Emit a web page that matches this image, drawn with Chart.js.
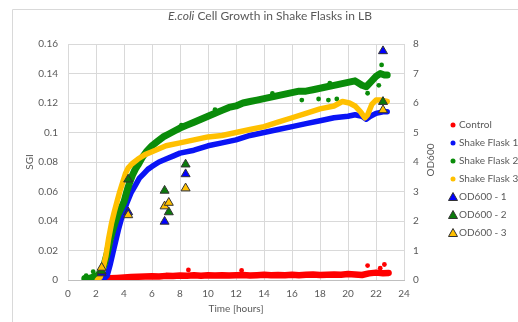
<!DOCTYPE html>
<html><head><meta charset="utf-8">
<script src="https://cdn.jsdelivr.net/npm/chart.js@4.4.1/dist/chart.umd.min.js"></script>
<style>html,body{margin:0;padding:0;background:#fff;overflow:hidden}canvas{display:block}</style>
</head><body>
<canvas id="c" width="518" height="322"></canvas>
<script>
// ---- tick labels ----
const timeTickLabels = ['0','2','4','6','8','10','12','14','16','18','20','22','24'];
const sgiTickLabels = ['0','0.02','0.04','0.06','0.08','0.1','0.12','0.14','0.16'];
const odTickLabels = ['0','1','2','3','4','5','6','7','8'];

// ---- Control (SGI) ----
const controlTime = [2.5,3,3.5,4,4.5,5,5.5,6,6.5,7,7.5,8,8.5,9,9.5,10,10.5,11,11.5,12,12.5,13,13.5,14,14.5,15,15.5,16,16.5,17,17.5,18,18.5,19,19.5,20,20.5,21,21.5,22,22.5,22.9];
const controlSGI = [0.0008,0.0012,0.0014,0.0017,0.002,0.0022,0.0024,0.0026,0.0024,0.0028,0.0027,0.003,0.0029,0.0032,0.0029,0.0032,0.0031,0.0033,0.003,0.0032,0.0034,0.0031,0.0033,0.0035,0.0032,0.0034,0.0033,0.0036,0.0032,0.0035,0.0037,0.0034,0.0036,0.0038,0.0035,0.004,0.0038,0.0034,0.0045,0.005,0.0046,0.0048];
const controlOutTime = [8.6,12.4,21.4,22.3,22.6];
const controlOutSGI = [0.0068,0.0065,0.0098,0.008,0.0105];

// ---- Shake Flask 1 (SGI) ----
const flask1Time = [2.4,2.6,2.8,3.0,3.2,3.4,3.6,3.8,4.0,4.2,4.5,4.8,5.1,5.4,5.7,6.0,6.5,7.0,7.5,8.0,9,10,11,12,13,14,15,16,17,18,19,20,20.5,21.0,21.3,21.6,22.0,22.5,22.8];
const flask1SGI = [0.000,0.001,0.003,0.010,0.018,0.026,0.034,0.041,0.047,0.052,0.059,0.064,0.069,0.072,0.075,0.077,0.080,0.082,0.084,0.086,0.088,0.091,0.093,0.095,0.098,0.100,0.102,0.104,0.106,0.108,0.110,0.111,0.112,0.111,0.109,0.111,0.113,0.114,0.114];

// ---- Shake Flask 2 (SGI) ----
const flask2Time = [1.2,1.5,1.8,2.1,2.4,2.6,2.8,3.0,3.2,3.4,3.6,3.8,4.0,4.2,4.4,4.6,4.8,5.0,5.3,5.6,6.0,6.4,6.8,7.2,7.6,8.0,8.5,9.0,9.5,10,10.5,11,11.5,12,12.5,13,13.5,14,14.5,15,15.5,16,16.5,17,17.5,18,18.5,19,19.5,20,20.5,21.0,21.3,21.6,22.0,22.3,22.6,22.8];
const flask2SGI = [0.001,0.001,0.002,0.003,0.006,0.011,0.018,0.027,0.034,0.040,0.045,0.049,0.053,0.060,0.066,0.071,0.075,0.078,0.083,0.087,0.091,0.094,0.097,0.099,0.101,0.103,0.105,0.107,0.109,0.111,0.113,0.115,0.117,0.118,0.120,0.121,0.122,0.123,0.124,0.125,0.126,0.127,0.128,0.128,0.129,0.130,0.131,0.132,0.133,0.134,0.135,0.132,0.131,0.134,0.138,0.140,0.139,0.139];
const flask2OutTime = [1.3,1.8,2.2,8.1,10.5,14.6,16.7,17.9,18.6,18.7,19.2,21.4,22.2,22.4];
const flask2OutSGI = [0.003,0.0056,0.004,0.1049,0.1155,0.1265,0.122,0.1227,0.122,0.1335,0.1227,0.1266,0.132,0.1458];

// ---- Shake Flask 3 (SGI) ----
const flask3Time = [2.1,2.3,2.5,2.7,2.9,3.1,3.3,3.5,3.7,3.9,4.1,4.3,4.6,5.0,5.5,6.0,6.5,7,8,9,10,11,12,13,14,15,16,17,18,19,19.6,20.1,20.5,20.9,21.2,21.4,21.7,22.0,22.4,22.8];
const flask3SGI = [0.000,0.002,0.008,0.016,0.028,0.038,0.046,0.053,0.060,0.066,0.072,0.076,0.079,0.082,0.085,0.087,0.089,0.091,0.093,0.095,0.097,0.098,0.100,0.102,0.104,0.107,0.110,0.113,0.116,0.118,0.121,0.120,0.118,0.114,0.110,0.112,0.119,0.122,0.122,0.121];

// ---- OD600 measurements ----
const od1Time = [2.4,4.3,6.9,8.4,22.5];
const od1Value = [0.23,2.3,1.98,3.59,7.76];
const od2Time = [2.4,4.3,6.9,7.2,8.4,22.5];
const od2Value = [0.3,3.41,3.03,2.3,3.92,6.04];
const od3Time = [2.4,4.3,6.9,7.2,8.4,22.5];
const od3Value = [0.42,2.2,2.5,2.62,3.11,5.76];

const pts = (xs, ys) => xs.map((x, i) => ({x, y: ys[i]}));

const RED = '#ff0000', BLUE = '#0a14f5', GREEN = '#0a8c0a', GOLD = '#ffc000';
const TXT = '#595959', GRID = '#d9d9d9';
const FONT = 'Lato, "Open Sans", sans-serif';

function lineSet(label, data, color, order, width) {
  return {label, data, showLine: true, borderColor: color, backgroundColor: color,
    borderWidth: width, pointRadius: 0, borderJoinStyle: 'round', borderCapStyle: 'round',
    yAxisID: 'y', order, legendStyle: 'circle'};
}
function dotSet(label, data, color, order) {
  return {label, data, showLine: false, backgroundColor: color, borderColor: color,
    pointRadius: 2.4, borderWidth: 0, yAxisID: 'y', order, legendStyle: null};
}
function triSet(label, data, color, order) {
  return {label, data, showLine: false, pointStyle: 'triangle', pointRadius: 5.2,
    backgroundColor: color, borderColor: '#333333', borderWidth: 1, yAxisID: 'y2', order, legendStyle: 'triangle'};
}

const datasets = [
  lineSet('Control', pts(controlTime, controlSGI), RED, 20, 6.5),
  dotSet('Control outliers', pts(controlOutTime, controlOutSGI), RED, 19),
  lineSet('Shake Flask 1', pts(flask1Time, flask1SGI), BLUE, 18, 5.5),
  lineSet('Shake Flask 2', pts(flask2Time, flask2SGI), GREEN, 17, 7),
  dotSet('Shake Flask 2 outliers', pts(flask2OutTime, flask2OutSGI), GREEN, 16),
  lineSet('Shake Flask 3', pts(flask3Time, flask3SGI), GOLD, 15, 5.5),
  triSet('OD600 - 1', pts(od1Time, od1Value), '#0000ff', 3),
  triSet('OD600 - 2', pts(od2Time, od2Value), '#0a7a0a', 2),
  triSet('OD600 - 3', pts(od3Time, od3Value), '#ffc000', 1)
];

const decor = {
  id: 'decor',
  beforeDraw(chart) {
    const ctx = chart.ctx;
    ctx.save();
    ctx.strokeStyle = GRID; ctx.lineWidth = 1;
    ctx.beginPath();
    ctx.moveTo(12.5, 322); ctx.lineTo(12.5, 9.5); ctx.lineTo(518, 9.5);
    ctx.stroke();
    ctx.restore();
  },
  afterDraw(chart) {
    const ctx = chart.ctx;
    ctx.save();
    // title with italic part
    ctx.fillStyle = TXT;
    ctx.textBaseline = 'middle';
    const p1 = 'E.coli', p2 = ' Cell Growth in Shake Flasks in LB';
    const fI = 'italic 12px ' + FONT, fN = '12px ' + FONT;
    ctx.font = fI; const w1 = ctx.measureText(p1).width;
    ctx.font = fN; const w2 = ctx.measureText(p2).width;
    const x0 = 270 - (w1 + w2) / 2;
    ctx.font = fI; ctx.textAlign = 'left'; ctx.fillText(p1, x0, 16);
    ctx.font = fN; ctx.fillText(p2, x0 + w1, 16);
    // right axis title
    ctx.save();
    ctx.translate(431, 160);
    ctx.rotate(-Math.PI / 2);
    ctx.font = '10px ' + FONT; ctx.textAlign = 'center';
    ctx.fillText('OD600', 0, 0);
    ctx.restore();
    // legend
    let row = 0;
    chart.data.datasets.forEach(ds => {
      if (!ds.legendStyle) return;
      const y = 125 + row * 18, x = 453;
      ctx.fillStyle = ds.backgroundColor;
      if (ds.legendStyle === 'circle') {
        ctx.beginPath(); ctx.arc(x, y, 2.5, 0, Math.PI * 2); ctx.fill();
      } else {
        ctx.beginPath();
        ctx.moveTo(x, y - 4.5); ctx.lineTo(x + 4.5, y + 3.5); ctx.lineTo(x - 4.5, y + 3.5); ctx.closePath();
        ctx.fill(); ctx.strokeStyle = '#333333'; ctx.lineWidth = 1; ctx.stroke();
      }
      ctx.fillStyle = TXT; ctx.font = '10px ' + FONT; ctx.textAlign = 'left'; ctx.textBaseline = 'middle';
      ctx.fillText(ds.label, 459, y);
      row++;
    });
    ctx.restore();
  }
};

new Chart(document.getElementById('c'), {
  type: 'scatter',
  data: {datasets},
  options: {
    responsive: false, animation: false,
    layout: {padding: {left: 0, top: 44, right: 68, bottom: 0}},
    plugins: {legend: {display: false}, tooltip: {enabled: false}, title: {display: false}},
    scales: {
      x: {
        type: 'linear', min: 0, max: 24,
        ticks: {stepSize: 2, color: TXT, font: {family: FONT, size: 10}, padding: 8,
          callback: (v, i) => timeTickLabels[i]},
        grid: {color: GRID, drawTicks: false},
        border: {color: '#bfbfbf'},
        title: {display: true, text: 'Time [hours]', color: TXT, font: {family: FONT, size: 10}, padding: {top: 0, bottom: 7}},
        afterFit: s => { s.height = 42; }
      },
      y: {
        type: 'linear', position: 'left', min: 0, max: 0.16,
        ticks: {stepSize: 0.02, color: TXT, font: {family: FONT, size: 10}, padding: 10,
          callback: (v, i) => sgiTickLabels[i]},
        grid: {color: GRID, drawTicks: false},
        border: {display: false},
        title: {display: true, text: 'SGI', color: TXT, font: {family: FONT, size: 10}, padding: {top: 24, bottom: 0}},
        afterFit: s => { s.width = 68; }
      },
      y2: {
        type: 'linear', position: 'right', min: 0, max: 8,
        ticks: {stepSize: 1, color: TXT, font: {family: FONT, size: 10}, padding: 9,
          callback: (v, i) => odTickLabels[i]},
        grid: {display: false, drawTicks: false},
        border: {display: false},
        afterFit: s => { s.width = 46; }
      }
    }
  },
  plugins: [decor]
});
</script>
</body></html>
